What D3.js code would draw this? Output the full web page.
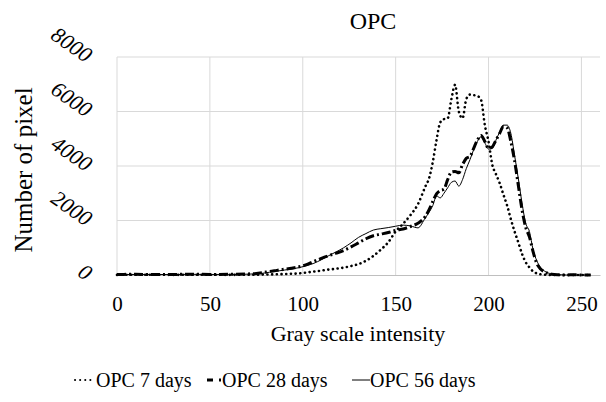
<!DOCTYPE html>
<html>
<head>
<meta charset="utf-8">
<script src="https://cdn.jsdelivr.net/npm/d3@7"></script>
<style>
  body { margin: 0; background: #fff; }
</style>
</head>
<body>
<div id="chart"></div>
<script>
// gray levels (shared x values)
const grays = [0, 10, 20, 30, 40, 50, 60, 70,
  74, 78, 82, 86, 90, 94, 98, 102, 106, 110, 114, 118, 122, 126, 130, 134, 138, 142, 146, 150, 154, 158, 162, 166,
  168, 170, 172, 174, 176, 178, 180, 182, 184, 186, 188, 190, 192, 194, 196, 198, 200,
  202, 204, 206, 208, 210, 212, 214, 216, 218, 220, 222, 224, 226, 228, 230,
  234, 238, 242, 246, 250, 255];

const opc7 = [5, 10, 10, 5, 10, 10, 5, 10,
  10, 15, 20, 25, 35, 45, 60, 90, 125, 160, 200, 230, 270, 330, 400, 520, 700, 930, 1200, 1600, 1880, 2200, 2600, 3250,
  3550, 4150, 4950, 5600, 5720, 5750, 6450, 6980, 6000, 5750, 6450, 6620, 6600, 6570, 6420, 5500, 4900,
  4050, 3700, 3370, 2950, 2550, 2050, 1600, 1200, 780, 470, 280, 130, 60, 25, 10,
  0, 0, 0, 0, 0, 0];

const opc28 = [20, 25, 15, 20, 30, 20, 25, 40,
  50, 80, 130, 170, 210, 250, 300, 380, 500, 610, 710, 800, 900, 1030, 1180, 1330, 1440, 1500, 1560, 1640, 1690, 1780, 1900, 2150,
  2400, 2700, 2980, 3100, 3150, 3500, 3780, 3800, 3750, 4050, 4280, 4350, 4650, 4950, 5120, 4900, 4650,
  4700, 4950, 5200, 5450, 5400, 4900, 4200, 3300, 2400, 1750, 1400, 850, 420, 220, 120,
  30, 10, 0, 10, 0, 0];

const opc56 = [15, 20, 20, 15, 25, 20, 20, 30,
  40, 60, 100, 140, 180, 220, 270, 340, 430, 560, 710, 850, 1000, 1180, 1380, 1520, 1650, 1700, 1740, 1790, 1830, 1800, 1730, 2100,
  2300, 2550, 2900, 2830, 3000, 3200, 3400, 3450, 3260, 3500, 3900, 4230, 4600, 4900, 5080, 4850, 4620,
  4650, 4950, 5250, 5500, 5500, 5200, 4400, 3550, 2650, 1900, 1600, 920, 520, 280, 150,
  40, 10, 0, 0, 0, 0];

const xTicks = [0, 50, 100, 150, 200, 250];
const yTicks = [0, 2000, 4000, 6000, 8000];

const seriesNames = ["OPC 7 days", "OPC 28 days", "OPC 56 days"];

const FONT = "'Liberation Serif', 'Times New Roman', Times, 'DejaVu Serif', serif";

const width = 606, height = 402;
const margin = { left: 117, right: 6, top: 57, bottom: 127 };

const svg = d3.select("#chart").append("svg")
  .attr("width", width)
  .attr("height", height)
  .attr("font-family", FONT);

const x = d3.scaleLinear().domain([0, 260]).range([margin.left, width - margin.right]);
const y = d3.scaleLinear().domain([0, 8000]).range([height - margin.bottom, margin.top]);

// grid
svg.append("g").selectAll("line.h")
  .data(yTicks.slice(1))
  .enter().append("line")
  .attr("x1", x(0)).attr("x2", x(260))
  .attr("y1", d => y(d)).attr("y2", d => y(d))
  .attr("stroke", "#d9d9d9").attr("stroke-width", 1);

svg.append("g").selectAll("line.v")
  .data(xTicks)
  .enter().append("line")
  .attr("x1", d => x(d)).attr("x2", d => x(d))
  .attr("y1", y(0)).attr("y2", y(8000))
  .attr("stroke", "#d9d9d9").attr("stroke-width", 1);

// x axis
const xAxis = svg.append("g")
  .attr("transform", `translate(0,${y(0)})`)
  .call(d3.axisBottom(x).tickValues(xTicks).tickSize(0).tickPadding(21))
  .attr("font-family", FONT)
  .attr("font-size", 21);
xAxis.select(".domain").attr("stroke", "#bfbfbf");
xAxis.selectAll("text").attr("fill", "#000");

// y axis labels (italic, slanted)
svg.append("g").selectAll("text")
  .data(yTicks)
  .enter().append("text")
  .attr("transform", d => `translate(90,${y(d)}) rotate(35)`)
  .attr("text-anchor", "end")
  .attr("dy", "0.35em")
  .attr("font-size", 22)
  .attr("font-style", "italic")
  .text(d => d);

// lines
const line = d3.line()
  .x((d, i) => x(grays[i]))
  .y(d => y(d))
  .curve(d3.curveMonotoneX);

svg.append("path").datum(opc7)
  .attr("d", line)
  .attr("fill", "none")
  .attr("stroke", "#000")
  .attr("stroke-width", 2.6)
  .attr("stroke-linecap", "round")
  .attr("stroke-dasharray", "0.1,4.6");

svg.append("path").datum(opc28)
  .attr("d", line)
  .attr("fill", "none")
  .attr("stroke", "#000")
  .attr("stroke-width", 3)
  .attr("stroke-dasharray", "9,3,2,3");

svg.append("path").datum(opc56)
  .attr("d", line)
  .attr("fill", "none")
  .attr("stroke", "#000")
  .attr("stroke-width", 1);

// title
svg.append("text")
  .attr("x", 373).attr("y", 29)
  .attr("text-anchor", "middle")
  .attr("font-size", 24)
  .text("OPC");

// axis titles
svg.append("text")
  .attr("x", 358).attr("y", 341)
  .attr("text-anchor", "middle")
  .attr("font-size", 22)
  .text("Gray scale intensity");

svg.append("text")
  .attr("transform", "translate(32,170) rotate(-90)")
  .attr("text-anchor", "middle")
  .attr("font-size", 25)
  .text("Number of pixel");

// legend
const legY = 380;
const legend = svg.append("g");
legend.append("line")
  .attr("x1", 75).attr("x2", 94).attr("y1", legY).attr("y2", legY)
  .attr("stroke", "#000").attr("stroke-width", 2)
  .attr("stroke-linecap", "round").attr("stroke-dasharray", "0.1,5");
legend.append("line")
  .attr("x1", 207).attr("x2", 222).attr("y1", legY).attr("y2", legY)
  .attr("stroke", "#000").attr("stroke-width", 3)
  .attr("stroke-dasharray", "6,6,2,10");
legend.append("line")
  .attr("x1", 352).attr("x2", 370).attr("y1", legY).attr("y2", legY)
  .attr("stroke", "#000").attr("stroke-width", 1);

const legX = [96, 222, 370];
legend.selectAll("text.leg")
  .data(seriesNames)
  .enter().append("text")
  .attr("x", (d, i) => legX[i])
  .attr("y", legY + 7)
  .attr("font-size", 20)
  .text(d => d);
</script>
</body>
</html>
